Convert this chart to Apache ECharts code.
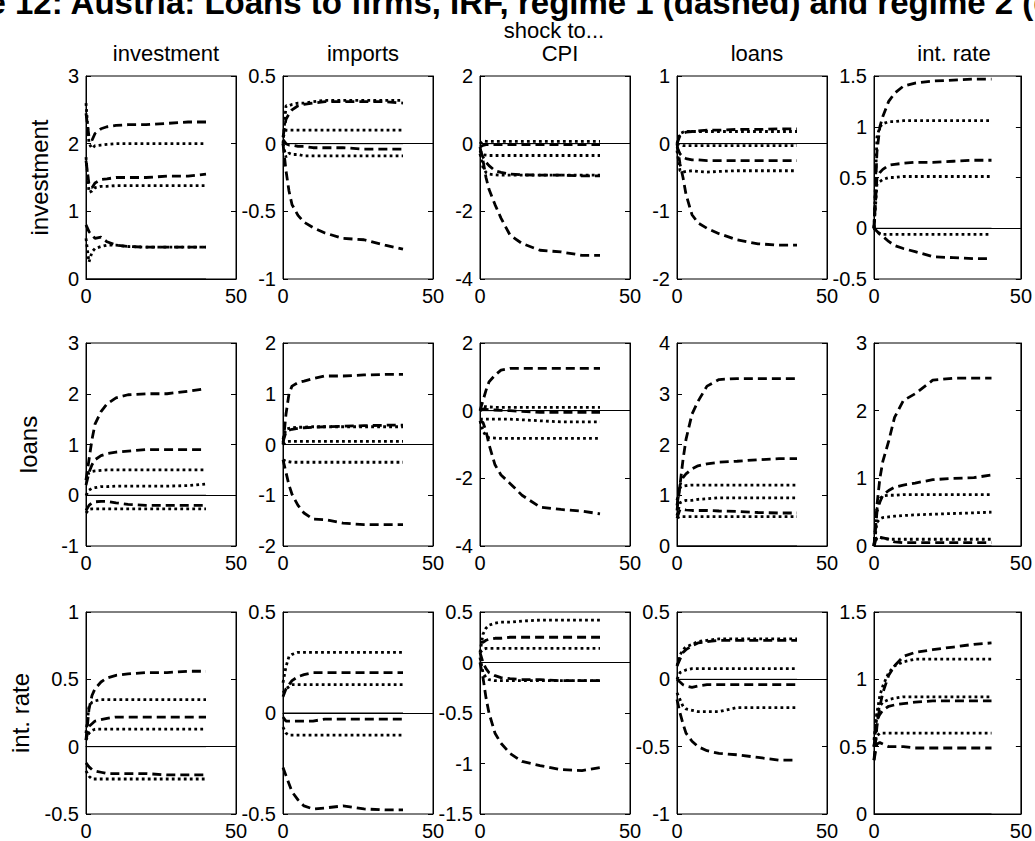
<!DOCTYPE html>
<html><head><meta charset="utf-8">
<script src="https://cdn.jsdelivr.net/npm/echarts@6/dist/echarts.min.js"></script>
<style>html,body{margin:0;padding:0;background:#fff}#c{width:1035px;height:841px}</style>
</head><body><div id="c"></div>
<script>
// ---------------- DATA ----------------
const mainTitle = 'Figure 12: Austria: Loans to firms, IRF, regime 1 (dashed) and regime 2 (dotted)';
const shockTitle = 'shock to...';
const shocks = ['investment', 'imports', 'CPI', 'loans', 'int. rate'];
const responses = ['investment', 'loans', 'int. rate'];
const horizon = [0, 1, 2, 3, 5, 7, 10, 14, 20, 27, 34, 40];
const xTicks = [0, 50];
const yMin = [[0, -1, -4, -2, -0.5], [-1, -2, -4, 0, 0], [-0.5, -0.5, -1.5, -1, 0]];
const yMax = [[3, 0.5, 2, 1, 1.5], [3, 2, 2, 4, 3], [1, 0.5, 0.5, 0.5, 1.5]];
const yStep = [[1, 0.5, 2, 1, 0.5], [1, 1, 2, 1, 1], [0.5, 0.5, 0.5, 0.5, 0.5]];

// response: investment
const inv_inv_regime1 = [
  [2.45, 2.1, 2.05, 2.15, 2.22, 2.25, 2.27, 2.28, 2.28, 2.3, 2.32, 2.32],
  [1.75, 1.4, 1.35, 1.42, 1.47, 1.48, 1.5, 1.5, 1.5, 1.52, 1.52, 1.55],
  [0.8, 0.7, 0.65, 0.6, 0.62, 0.55, 0.5, 0.48, 0.47, 0.47, 0.47, 0.47]];
const inv_inv_regime2 = [
  [2.6, 2.0, 1.93, 1.97, 1.98, 1.99, 2.0, 2.0, 2.0, 2.0, 2.0, 2.0],
  [1.8, 1.28, 1.3, 1.35, 1.37, 1.37, 1.38, 1.38, 1.38, 1.38, 1.38, 1.38],
  [0.6, 0.25, 0.4, 0.45, 0.48, 0.5, 0.5, 0.48, 0.47, 0.47, 0.47, 0.47]];
const inv_imp_regime1 = [
  [0.05, 0.18, 0.22, 0.25, 0.28, 0.29, 0.3, 0.31, 0.31, 0.31, 0.31, 0.3],
  [0.03, 0.0, -0.01, -0.01, -0.02, -0.02, -0.03, -0.03, -0.03, -0.04, -0.04, -0.04],
  [0.0, -0.2, -0.35, -0.45, -0.53, -0.58, -0.62, -0.66, -0.7, -0.71, -0.75, -0.78]];
const inv_imp_regime2 = [
  [0.0, 0.28, 0.28, 0.29, 0.3, 0.3, 0.31, 0.32, 0.32, 0.32, 0.32, 0.32],
  [0.05, 0.1, 0.1, 0.1, 0.1, 0.1, 0.1, 0.1, 0.1, 0.1, 0.1, 0.1],
  [0.0, -0.1, -0.07, -0.08, -0.08, -0.09, -0.09, -0.09, -0.09, -0.09, -0.09, -0.09]];
const inv_cpi_regime1 = [
  [-0.1, -0.05, -0.03, -0.03, -0.03, -0.03, -0.03, -0.03, -0.03, -0.03, -0.03, -0.03],
  [-0.2, -0.4, -0.55, -0.65, -0.8, -0.85, -0.9, -0.92, -0.93, -0.93, -0.95, -0.95],
  [-0.1, -0.5, -1.0, -1.35, -1.8, -2.2, -2.7, -2.95, -3.15, -3.2, -3.3, -3.3]];
const inv_cpi_regime2 = [
  [0.0, 0.08, 0.07, 0.07, 0.07, 0.07, 0.07, 0.07, 0.07, 0.07, 0.07, 0.07],
  [-0.2, -0.33, -0.34, -0.35, -0.35, -0.35, -0.35, -0.35, -0.35, -0.35, -0.35, -0.35],
  [-0.3, -0.7, -0.85, -0.9, -0.92, -0.93, -0.93, -0.93, -0.93, -0.93, -0.93, -0.93]];
const inv_loans_regime1 = [
  [0.0, 0.12, 0.15, 0.17, 0.18, 0.19, 0.2, 0.2, 0.21, 0.21, 0.22, 0.22],
  [-0.05, -0.15, -0.2, -0.22, -0.24, -0.24, -0.25, -0.25, -0.25, -0.25, -0.25, -0.25],
  [0.0, -0.3, -0.5, -0.75, -1.05, -1.17, -1.25, -1.33, -1.42, -1.48, -1.5, -1.5]];
const inv_loans_regime2 = [
  [0.0, 0.15, 0.17, 0.18, 0.18, 0.18, 0.18, 0.18, 0.18, 0.18, 0.18, 0.18],
  [0.0, -0.02, -0.03, -0.03, -0.03, -0.03, -0.03, -0.03, -0.03, -0.03, -0.03, -0.03],
  [-0.1, -0.4, -0.42, -0.41, -0.4, -0.41, -0.42, -0.41, -0.4, -0.4, -0.4, -0.4]];
const inv_rate_regime1 = [
  [0.0, 0.75, 1.0, 1.1, 1.25, 1.33, 1.4, 1.43, 1.45, 1.46, 1.47, 1.47],
  [0.0, 0.5, 0.55, 0.58, 0.62, 0.63, 0.64, 0.65, 0.65, 0.66, 0.67, 0.67],
  [0.0, -0.03, -0.06, -0.08, -0.13, -0.17, -0.2, -0.23, -0.28, -0.29, -0.3, -0.3]];
const inv_rate_regime2 = [
  [0.0, 0.9, 1.0, 1.03, 1.05, 1.05, 1.06, 1.06, 1.06, 1.06, 1.06, 1.06],
  [0.0, 0.43, 0.46, 0.48, 0.5, 0.5, 0.51, 0.51, 0.51, 0.51, 0.51, 0.51],
  [0.0, -0.04, -0.05, -0.06, -0.06, -0.06, -0.06, -0.06, -0.06, -0.06, -0.06, -0.06]];

// response: loans
const loans_inv_regime1 = [
  [0.3, 0.7, 1.1, 1.4, 1.65, 1.8, 1.92, 1.98, 2.0, 2.0, 2.05, 2.1],
  [0.2, 0.45, 0.6, 0.7, 0.78, 0.82, 0.85, 0.87, 0.9, 0.9, 0.9, 0.9],
  [-0.3, -0.2, -0.15, -0.13, -0.12, -0.12, -0.15, -0.18, -0.2, -0.2, -0.2, -0.2]];
const loans_inv_regime2 = [
  [0.3, 0.45, 0.47, 0.48, 0.49, 0.5, 0.5, 0.5, 0.5, 0.5, 0.5, 0.5],
  [0.0, 0.1, 0.14, 0.15, 0.17, 0.17, 0.18, 0.18, 0.18, 0.18, 0.19, 0.22],
  [-0.35, -0.28, -0.27, -0.27, -0.27, -0.27, -0.27, -0.27, -0.27, -0.27, -0.27, -0.27]];
const loans_imp_regime1 = [
  [0.0, 0.6, 1.0, 1.15, 1.22, 1.25, 1.3, 1.35, 1.35, 1.37, 1.38, 1.38],
  [0.05, 0.25, 0.28, 0.3, 0.32, 0.33, 0.34, 0.35, 0.36, 0.37, 0.38, 0.38],
  [-0.3, -0.55, -0.8, -0.98, -1.2, -1.35, -1.47, -1.48, -1.55, -1.58, -1.58, -1.58]];
const loans_imp_regime2 = [
  [0.1, 0.3, 0.32, 0.33, 0.34, 0.34, 0.35, 0.35, 0.35, 0.35, 0.35, 0.35],
  [0.0, 0.05, 0.06, 0.06, 0.06, 0.06, 0.06, 0.06, 0.06, 0.06, 0.06, 0.06],
  [-0.3, -0.33, -0.34, -0.35, -0.35, -0.35, -0.35, -0.35, -0.35, -0.35, -0.35, -0.35]];
const loans_cpi_regime1 = [
  [0.0, 0.3, 0.6, 0.85, 1.05, 1.2, 1.25, 1.25, 1.25, 1.25, 1.25, 1.25],
  [0.0, 0.05, 0.04, 0.03, 0.02, 0.01, 0.0, -0.02, -0.05, -0.05, -0.05, -0.05],
  [-0.3, -0.35, -0.6, -1.0, -1.6, -1.9, -2.15, -2.5, -2.85, -2.92, -2.97, -3.05]];
const loans_cpi_regime2 = [
  [0.0, 0.12, 0.12, 0.11, 0.1, 0.1, 0.1, 0.1, 0.1, 0.1, 0.1, 0.1],
  [-0.25, -0.25, -0.25, -0.25, -0.25, -0.25, -0.25, -0.27, -0.3, -0.33, -0.33, -0.33],
  [-0.3, -0.6, -0.75, -0.8, -0.81, -0.82, -0.82, -0.82, -0.82, -0.82, -0.82, -0.82]];
const loans_loans_regime1 = [
  [0.7, 1.2, 1.7, 2.1, 2.6, 2.85, 3.15, 3.28, 3.3, 3.3, 3.3, 3.3],
  [0.8, 1.2, 1.35, 1.42, 1.52, 1.58, 1.62, 1.65, 1.67, 1.7, 1.72, 1.72],
  [0.55, 0.72, 0.72, 0.71, 0.7, 0.7, 0.7, 0.69, 0.68, 0.66, 0.65, 0.65]];
const loans_loans_regime2 = [
  [0.9, 1.15, 1.18, 1.19, 1.2, 1.2, 1.2, 1.2, 1.2, 1.2, 1.2, 1.2],
  [0.6, 0.85, 0.88, 0.9, 0.9, 0.92, 0.93, 0.95, 0.95, 0.95, 0.95, 0.95],
  [0.55, 0.58, 0.58, 0.58, 0.58, 0.58, 0.58, 0.58, 0.58, 0.58, 0.58, 0.58]];
const loans_rate_regime1 = [
  [0.0, 0.6, 1.0, 1.25, 1.55, 1.9, 2.15, 2.25, 2.45, 2.48, 2.48, 2.48],
  [0.0, 0.5, 0.65, 0.75, 0.82, 0.87, 0.9, 0.93, 0.98, 1.0, 1.01, 1.05],
  [0.0, 0.15, 0.13, 0.12, 0.1, 0.06, 0.05, 0.05, 0.05, 0.05, 0.05, 0.05]];
const loans_rate_regime2 = [
  [0.0, 0.55, 0.7, 0.74, 0.75, 0.75, 0.76, 0.76, 0.76, 0.76, 0.76, 0.76],
  [0.0, 0.35, 0.4, 0.42, 0.43, 0.44, 0.45, 0.46, 0.47, 0.48, 0.49, 0.5],
  [0.0, 0.12, 0.13, 0.11, 0.1, 0.1, 0.1, 0.1, 0.1, 0.1, 0.1, 0.1]];

// response: int. rate
const rate_inv_regime1 = [
  [0.05, 0.28, 0.38, 0.43, 0.48, 0.51, 0.53, 0.54, 0.55, 0.55, 0.56, 0.56],
  [0.05, 0.15, 0.17, 0.19, 0.2, 0.21, 0.22, 0.22, 0.22, 0.22, 0.22, 0.22],
  [-0.12, -0.15, -0.17, -0.18, -0.19, -0.2, -0.2, -0.2, -0.2, -0.21, -0.21, -0.21]];
const rate_inv_regime2 = [
  [0.1, 0.3, 0.33, 0.34, 0.35, 0.35, 0.35, 0.35, 0.35, 0.35, 0.35, 0.35],
  [0.05, 0.1, 0.12, 0.13, 0.13, 0.13, 0.13, 0.13, 0.13, 0.13, 0.13, 0.13],
  [-0.18, -0.22, -0.24, -0.24, -0.24, -0.24, -0.24, -0.24, -0.24, -0.24, -0.24, -0.24]];
const rate_imp_regime1 = [
  [0.08, 0.12, 0.14, 0.16, 0.18, 0.19, 0.2, 0.2, 0.2, 0.2, 0.2, 0.2],
  [-0.02, -0.04, -0.04, -0.04, -0.04, -0.04, -0.04, -0.03, -0.03, -0.03, -0.03, -0.03],
  [-0.27, -0.31, -0.35, -0.39, -0.43, -0.46, -0.475, -0.47, -0.46, -0.475, -0.48, -0.48]];
const rate_imp_regime2 = [
  [0.15, 0.23, 0.28, 0.29, 0.3, 0.3, 0.3, 0.3, 0.3, 0.3, 0.3, 0.3],
  [0.1, 0.12, 0.13, 0.14, 0.14, 0.14, 0.14, 0.14, 0.14, 0.14, 0.14, 0.14],
  [-0.07, -0.1, -0.11, -0.11, -0.11, -0.11, -0.11, -0.11, -0.11, -0.11, -0.11, -0.11]];
const rate_cpi_regime1 = [
  [0.2, 0.2, 0.22, 0.23, 0.24, 0.24, 0.25, 0.25, 0.25, 0.25, 0.25, 0.25],
  [0.1, 0.0, -0.06, -0.1, -0.13, -0.15, -0.16, -0.17, -0.17, -0.18, -0.18, -0.18],
  [0.0, -0.15, -0.35, -0.5, -0.7, -0.8, -0.9, -0.98, -1.02, -1.06, -1.07, -1.04]];
const rate_cpi_regime2 = [
  [0.1, 0.28, 0.34, 0.37, 0.39, 0.4, 0.4, 0.41, 0.42, 0.42, 0.42, 0.42],
  [0.1, 0.13, 0.14, 0.14, 0.14, 0.14, 0.14, 0.14, 0.14, 0.14, 0.14, 0.14],
  [0.05, -0.1, -0.15, -0.17, -0.18, -0.18, -0.18, -0.18, -0.18, -0.18, -0.18, -0.18]];
const rate_loans_regime1 = [
  [0.1, 0.15, 0.2, 0.22, 0.25, 0.27, 0.28, 0.29, 0.29, 0.29, 0.29, 0.29],
  [0.0, -0.02, -0.04, -0.05, -0.06, -0.05, -0.04, -0.04, -0.04, -0.04, -0.04, -0.04],
  [-0.15, -0.25, -0.33, -0.4, -0.46, -0.5, -0.53, -0.55, -0.56, -0.58, -0.6, -0.6]];
const rate_loans_regime2 = [
  [0.1, 0.18, 0.22, 0.24, 0.26, 0.28, 0.29, 0.3, 0.3, 0.3, 0.3, 0.3],
  [0.0, 0.05, 0.06, 0.07, 0.08, 0.08, 0.08, 0.08, 0.08, 0.08, 0.08, 0.08],
  [-0.1, -0.15, -0.2, -0.22, -0.23, -0.24, -0.24, -0.24, -0.21, -0.21, -0.21, -0.21]];
const rate_rate_regime1 = [
  [0.4, 0.65, 0.8, 0.9, 1.03, 1.1, 1.17, 1.2, 1.22, 1.24, 1.26, 1.27],
  [0.5, 0.7, 0.74, 0.77, 0.8, 0.81, 0.82, 0.83, 0.84, 0.84, 0.84, 0.84],
  [0.4, 0.52, 0.53, 0.52, 0.5, 0.5, 0.5, 0.49, 0.49, 0.49, 0.49, 0.49]];
const rate_rate_regime2 = [
  [0.5, 0.75, 0.88, 0.95, 1.05, 1.1, 1.13, 1.15, 1.15, 1.15, 1.15, 1.15],
  [0.55, 0.75, 0.8, 0.83, 0.85, 0.86, 0.87, 0.87, 0.87, 0.87, 0.87, 0.87],
  [0.5, 0.58, 0.6, 0.6, 0.6, 0.6, 0.6, 0.6, 0.6, 0.6, 0.6, 0.6]];

const regime1 = [
  [inv_inv_regime1, inv_imp_regime1, inv_cpi_regime1, inv_loans_regime1, inv_rate_regime1],
  [loans_inv_regime1, loans_imp_regime1, loans_cpi_regime1, loans_loans_regime1, loans_rate_regime1],
  [rate_inv_regime1, rate_imp_regime1, rate_cpi_regime1, rate_loans_regime1, rate_rate_regime1]];
const regime2 = [
  [inv_inv_regime2, inv_imp_regime2, inv_cpi_regime2, inv_loans_regime2, inv_rate_regime2],
  [loans_inv_regime2, loans_imp_regime2, loans_cpi_regime2, loans_loans_regime2, loans_rate_regime2],
  [rate_inv_regime2, rate_imp_regime2, rate_cpi_regime2, rate_loans_regime2, rate_rate_regime2]];

// ---------------- LAYOUT / STYLE ----------------
const FONT = "'Liberation Sans', Arial, sans-serif";
const gridLeft0 = 86, colStep = 197, gridW = 150;
const rowTops = [76, 343, 612], gridH = 203;
const rowNameGap = [35, 46, 54];

const grids = [], xAxes = [], yAxes = [], series = [], titles = [];
titles.push({ text: shockTitle, left: 549, top: 14, textAlign: 'center',
  textStyle: { fontFamily: FONT, fontSize: 22, fontWeight: 'normal', color: '#000' } });
shocks.forEach((s, c) => titles.push({ text: s, left: gridLeft0 + c * colStep + gridW / 2, top: 37, textAlign: 'center',
  textStyle: { fontFamily: FONT, fontSize: 22, fontWeight: 'normal', color: '#000' } }));

const axisLbl = { fontFamily: FONT, fontSize: 20, color: '#000' };
let gi = 0;
for (let r = 0; r < 3; r++) {
  for (let c = 0; c < 5; c++) {
    grids.push({ left: gridLeft0 + c * colStep, top: rowTops[r], width: gridW, height: gridH,
      show: true, borderColor: '#000', borderWidth: 1, backgroundColor: '#fff' });
    xAxes.push({ gridIndex: gi, type: 'value', min: xTicks[0], max: xTicks[1], interval: xTicks[1] - xTicks[0],
      axisLine: { show: true, lineStyle: { color: '#000', width: 1 } },
      axisTick: { show: true, inside: true, length: 5, lineStyle: { color: '#000' } },
      axisLabel: Object.assign({ margin: 7, showMinLabel: true, showMaxLabel: true }, axisLbl),
      splitLine: { show: false } });
    const yBase = { gridIndex: gi, type: 'value', min: yMin[r][c], max: yMax[r][c], interval: yStep[r][c],
      axisLine: { show: true, lineStyle: { color: '#000', width: 1 } },
      axisTick: { show: true, inside: true, length: 5, lineStyle: { color: '#000' } },
      splitLine: { show: false } };
    const yl = Object.assign({}, yBase, { position: 'left',
      axisLabel: Object.assign({ margin: 7, showMinLabel: true, showMaxLabel: true }, axisLbl) });
    if (c === 0) {
      Object.assign(yl, { name: responses[r], nameLocation: 'middle', nameRotate: 90, nameGap: rowNameGap[r],
        nameTextStyle: { fontFamily: FONT, fontSize: 24, color: '#000' } });
    }
    yAxes.push(yl);
    yAxes.push(Object.assign({}, yBase, { position: 'right', axisLabel: { show: false } }));
    const yi = yAxes.length - 2;
    const common = { type: 'line', xAxisIndex: gi, yAxisIndex: yi, symbol: 'none', silent: true, animation: false, z: 3 };
    series.push(Object.assign({}, common, { name: 'zero',
      data: [[horizon[0], 0], [horizon[horizon.length - 1], 0]],
      lineStyle: { color: '#000', width: 1, type: 'solid' }, z: 2 }));
    regime1[r][c].forEach((vals) => series.push(Object.assign({}, common, { name: 'regime 1',
      data: horizon.map((t, k) => [t, vals[k]]),
      lineStyle: { color: '#000', width: 2.8, type: [9, 5], cap: 'butt' } })));
    regime2[r][c].forEach((vals) => series.push(Object.assign({}, common, { name: 'regime 2',
      data: horizon.map((t, k) => [t, vals[k]]),
      lineStyle: { color: '#000', width: 2.8, type: [2.8, 3.2], cap: 'butt' } })));
    gi++;
  }
}

const chart = echarts.init(document.getElementById('c'), null, { renderer: 'svg' });
chart.setOption({
  backgroundColor: '#fff', animation: false,
  title: titles, grid: grids, xAxis: xAxes, yAxis: yAxes, series: series,
  graphic: [{ type: 'text', x: 525, y: 2, silent: true, z: 10,
    style: { text: mainTitle, font: "bold 33px 'Liberation Sans', Arial, sans-serif", fill: '#000',
      textAlign: 'center', textVerticalAlign: 'middle', align: 'center', verticalAlign: 'middle' } }]
});
</script></body></html>
